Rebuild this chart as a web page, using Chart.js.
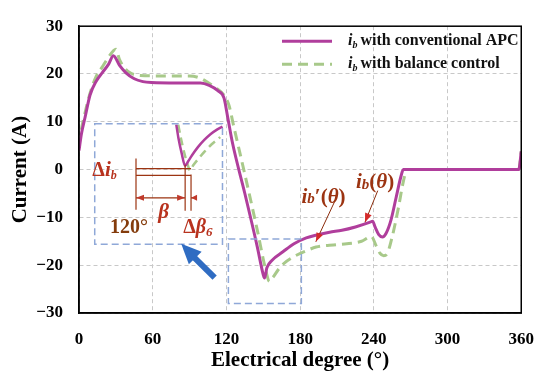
<!DOCTYPE html>
<html>
<head>
<meta charset="utf-8">
<script src="https://cdn.jsdelivr.net/npm/chart.js@4.4.0/dist/chart.umd.min.js"></script>
<style>
  html, body { margin: 0; padding: 0; background: #fff; }
  #wrap { width: 550px; height: 375px; }
</style>
</head>
<body>
<div id="wrap"><canvas id="c" width="550" height="375"></canvas></div>
<script>
// Phase current i_b, conventional APC (solid)
const apcDeg = [0, 2, 5, 9, 14, 19, 24, 28, 33, 38, 45, 52, 59, 80, 99, 106, 113, 118, 121, 125, 135, 145, 150, 151,
  153, 157, 166, 175, 185, 193, 204, 214, 225, 237, 239, 241, 244, 247, 250, 254, 258, 262, 264, 300, 358, 360];
const apcCur = [4, 7.5, 11, 15.6, 18.5, 20.3, 22, 23.8, 21.8, 20.3, 19, 18.4, 18.2, 18.1, 18.1, 17.6, 16.5, 15, 11, 5.5, -5, -16, -22, -22.7,
  -20.5, -19, -17.2, -15.5, -14.3, -13.7, -13.1, -12.7, -12, -11, -10.8, -12, -13.6, -14.1, -13.3, -10.5, -6, -1.5, 0, 0, 0, 3.8];

// Phase current i_b, balance control (dashed)
const balDeg = [0, 2, 5, 9, 14, 19, 24, 30, 33, 37, 42, 50, 70, 90, 98, 105, 112, 118, 122, 126, 135, 145, 152, 155,
  158, 162, 166, 175, 185, 193, 210, 230, 238, 242, 245, 248, 251, 255, 260, 264, 267, 300, 358, 360];
const balCur = [5, 8.5, 12, 16, 19.5, 21.5, 23.5, 25.2, 23, 21.3, 20.2, 19.7, 19.6, 19.6, 19.2, 18.2, 17, 15.6, 13.5, 9, -1, -12.5, -21, -23.4,
  -22.5, -21, -19.8, -18.2, -17, -16.2, -15.7, -15, -14, -16, -17.5, -18, -17.5, -14, -8, -2.5, 0, 0, 0, 3.8];

// Magnified detail shown inside the inset box
const zoomApcDeg = [79.2, 81, 83.5, 86.4, 89, 92, 96.8, 102, 107, 112, 116.8];
const zoomApcCur = [9.4, 6.5, 3.5, 0.8, 1.8, 3, 4.7, 6.2, 7.4, 8.3, 9.0];
const zoomBalDeg = [80.8, 83, 86, 88.5, 90.4, 93, 97, 102, 108, 115];
const zoomBalCur = [9.4, 6.5, 3.2, 1, -0.2, 0.9, 2.2, 3.7, 5.3, 6.8];

const xTicks = [0, 60, 120, 180, 240, 300, 360];
const yTicks = [-30, -20, -10, 0, 10, 20, 30];

const APC = '#b03e9c';
const BAL = '#a8c98a';
const SERIF = '"Liberation Serif", "Times New Roman", serif';

const pts = (xs, ys) => xs.map((x, i) => ({ x: x, y: ys[i] }));

function rich(ctx, parts, cx, cy, color) {
  let w = 0;
  parts.forEach(p => { ctx.font = p.f; p.w = ctx.measureText(p.t).width; w += p.w; });
  let x = cx - w / 2;
  ctx.fillStyle = color;
  ctx.textBaseline = 'middle';
  ctx.textAlign = 'left';
  parts.forEach(p => { ctx.font = p.f; ctx.fillText(p.t, x, cy + (p.dy || 0)); x += p.w; });
}

function arrowHead(ctx, x1, y1, x2, y2, len, half) {
  const a = Math.atan2(y2 - y1, x2 - x1);
  ctx.beginPath();
  ctx.moveTo(x2, y2);
  ctx.lineTo(x2 - len * Math.cos(a) + half * Math.sin(a), y2 - len * Math.sin(a) - half * Math.cos(a));
  ctx.lineTo(x2 - len * Math.cos(a) - half * Math.sin(a), y2 - len * Math.sin(a) + half * Math.cos(a));
  ctx.closePath();
  ctx.fill();
}

const overlay = {
  id: 'overlay',
  afterDatasetsDraw(chart) {
    const ctx = chart.ctx;
    const sx = chart.scales.x, sy = chart.scales.y;
    const X = v => sx.getPixelForValue(v);
    const Y = v => sy.getPixelForValue(v);
    const a = chart.chartArea;
    ctx.save();

    // dashed zoom boxes
    ctx.strokeStyle = '#8fa8d8';
    ctx.lineWidth = 1.5;
    ctx.setLineDash([7, 4]);
    ctx.strokeRect(X(12.8), Y(9.6), X(116.8) - X(12.8), Y(-15.6) - Y(9.6));
    ctx.strokeRect(X(121.6), Y(-14.5), X(181) - X(121.6), Y(-28) - Y(-14.5));
    ctx.setLineDash([]);

    // dimension lines in the inset
    ctx.strokeStyle = '#9c3412';
    ctx.fillStyle = '#c0392b';
    ctx.lineWidth = 1.2;
    ctx.beginPath();
    ctx.moveTo(X(46.4), Y(2.3)); ctx.lineTo(X(46.4), Y(-8.4));
    ctx.moveTo(X(46.4), Y(0.2)); ctx.lineTo(X(91.2), Y(0.2));
    ctx.moveTo(X(46.4), Y(-1.2)); ctx.lineTo(X(91.2), Y(-1.2));
    ctx.moveTo(X(86.4), Y(1.0)); ctx.lineTo(X(86.4), Y(-8.6));
    ctx.moveTo(X(91.2), Y(-1.0)); ctx.lineTo(X(91.2), Y(-8.6));
    ctx.moveTo(X(46.4), Y(-5.9)); ctx.lineTo(X(86.4), Y(-5.9));
    ctx.moveTo(X(91.2), Y(-5.9)); ctx.lineTo(X(94), Y(-5.9));
    ctx.stroke();
    arrowHead(ctx, X(86.4), Y(-5.9), X(46.4), Y(-5.9), 8, 3);
    arrowHead(ctx, X(46.4), Y(-5.9), X(86.4), Y(-5.9), 8, 3);
    arrowHead(ctx, X(94), Y(-5.9), X(91.2), Y(-5.9), 6, 3);

    // labels inside the inset
    rich(ctx, [{ t: 'Δ', f: 'bold 20px ' + SERIF }, { t: 'i', f: 'italic bold 21px ' + SERIF },
      { t: 'b', f: 'italic bold 12px ' + SERIF, dy: 5 }], X(20.8), Y(-0.3), '#b8321e');
    rich(ctx, [{ t: '120°', f: 'bold 20px ' + SERIF }], X(40.8), Y(-12.2), '#843c0c');
    rich(ctx, [{ t: 'β', f: 'italic bold 21px ' + SERIF }], X(68.8), Y(-8.9), '#b8321e');
    rich(ctx, [{ t: 'Δ', f: 'bold 20px ' + SERIF }, { t: 'β', f: 'italic bold 20px ' + SERIF },
      { t: '6', f: 'italic bold 13px ' + SERIF, dy: 5 }], X(96.8), Y(-12.2), '#b8321e');

    // pointer labels
    ctx.strokeStyle = '#8b2c0c';
    ctx.fillStyle = '#d42a2a';
    ctx.lineWidth = 1;
    ctx.beginPath();
    ctx.moveTo(X(208.8), Y(-6.3)); ctx.lineTo(X(192.8), Y(-15.1));
    ctx.moveTo(X(243.2), Y(-4.4)); ctx.lineTo(X(232.8), Y(-11));
    ctx.stroke();
    arrowHead(ctx, X(208.8), Y(-6.3), X(192.8), Y(-15.1), 9, 3.5);
    arrowHead(ctx, X(243.2), Y(-4.4), X(232.8), Y(-11), 9, 3.5);
    rich(ctx, [{ t: 'i', f: 'italic bold 21px ' + SERIF }, { t: 'b', f: 'italic bold 15px ' + SERIF, dy: 2 },
      { t: '\u2032(', f: 'bold 21px ' + SERIF }, { t: 'θ', f: 'italic bold 21px ' + SERIF },
      { t: ')', f: 'bold 21px ' + SERIF }], X(199), Y(-5.8), '#9c3412');
    rich(ctx, [{ t: 'i', f: 'italic bold 21px ' + SERIF }, { t: 'b', f: 'italic bold 15px ' + SERIF, dy: 2 },
      { t: '(', f: 'bold 21px ' + SERIF }, { t: 'θ', f: 'italic bold 21px ' + SERIF },
      { t: ')', f: 'bold 21px ' + SERIF }], X(241), Y(-2.8), '#9c3412');

    // blue pointer arrow
    ctx.strokeStyle = '#2f6cc2';
    ctx.fillStyle = '#2f6cc2';
    ctx.lineWidth = 6;
    ctx.beginPath();
    ctx.moveTo(X(110.4), Y(-22.6)); ctx.lineTo(X(90), Y(-17.4));
    ctx.stroke();
    arrowHead(ctx, X(110.4), Y(-22.6), X(83.2), Y(-15.5), 20, 9);

    // legend
    const items = chart.data.datasets.slice(0, 2);
    items.forEach((ds, i) => {
      const ly = a.top + 15 + i * 23;
      ctx.strokeStyle = ds.borderColor;
      ctx.lineWidth = 3;
      ctx.setLineDash(ds.borderDash || []);
      ctx.beginPath();
      ctx.moveTo(a.left + 203, ly); ctx.lineTo(a.left + 253, ly);
      ctx.stroke();
      ctx.setLineDash([]);
      ctx.fillStyle = '#111';
      ctx.textBaseline = 'middle';
      ctx.textAlign = 'left';
      let x = a.left + 269;
      ctx.font = 'italic bold 16px ' + SERIF;
      ctx.fillText('i', x, ly);
      x += ctx.measureText('i').width;
      ctx.font = 'italic bold 10px ' + SERIF;
      ctx.fillText('b', x, ly + 4);
      x += ctx.measureText('b').width + 3;
      ctx.font = 'bold 16px ' + SERIF;
      ctx.fillText(ds.label, x, ly);
    });

    // frame
    ctx.strokeStyle = '#000';
    ctx.lineWidth = 1.5;
    ctx.strokeRect(a.left, a.top, a.right - a.left, a.bottom - a.top);
    ctx.restore();
  }
};

new Chart(document.getElementById('c'), {
  type: 'line',
  data: {
    datasets: [
      { label: 'with conventional APC', data: pts(apcDeg, apcCur), borderColor: APC, borderWidth: 3, cubicInterpolationMode: 'monotone', order: 1 },
      { label: 'with balance control', data: pts(balDeg, balCur), borderColor: BAL, borderWidth: 3, borderDash: [10, 6], cubicInterpolationMode: 'monotone', order: 2 },
      { label: 'zoom apc', data: pts(zoomApcDeg, zoomApcCur), borderColor: APC, borderWidth: 2.5, cubicInterpolationMode: 'monotone', order: 1 },
      { label: 'zoom bal', data: pts(zoomBalDeg, zoomBalCur), borderColor: BAL, borderWidth: 2.5, borderDash: [8, 5], cubicInterpolationMode: 'monotone', order: 2 }
    ]
  },
  options: {
    responsive: false,
    animation: false,
    elements: { point: { radius: 0 } },
    layout: { padding: { left: 0, top: 20, right: 21, bottom: 0 } },
    plugins: { legend: { display: false }, tooltip: { enabled: false } },
    scales: {
      x: {
        type: 'linear', min: 0, max: 360,
        afterFit: s => { s.height = 62; },
        afterBuildTicks: s => { s.ticks = xTicks.map(v => ({ value: v })); },
        grid: { color: '#c8c8c8', lineWidth: 1, drawTicks: false },
        border: { display: true, color: '#000', width: 1.5, dash: [4, 3] },
        ticks: { padding: 16, color: '#000', maxRotation: 0, font: { family: SERIF, weight: 'bold', size: 17 } },
        title: { display: true, text: 'Electrical degree (°)', color: '#000', padding: { top: 0, bottom: 2 },
          font: { family: SERIF, weight: 'bold', size: 21 } }
      },
      y: {
        type: 'linear', min: -30, max: 30,
        afterFit: s => { s.width = 79; },
        afterBuildTicks: s => { s.ticks = yTicks.map(v => ({ value: v })); },
        grid: { color: '#c8c8c8', lineWidth: 1, drawTicks: false },
        border: { display: true, color: '#000', width: 1.5, dash: [4, 3] },
        ticks: { padding: 16, color: '#000', font: { family: SERIF, weight: 'bold', size: 17 },
          callback: v => String(v).replace('-', '\u2212') },
        title: { display: true, text: 'Current (A)', color: '#000', padding: { top: 8, bottom: 0 },
          font: { family: SERIF, weight: 'bold', size: 21 } }
      }
    }
  },
  plugins: [overlay]
});
</script>
</body>
</html>
